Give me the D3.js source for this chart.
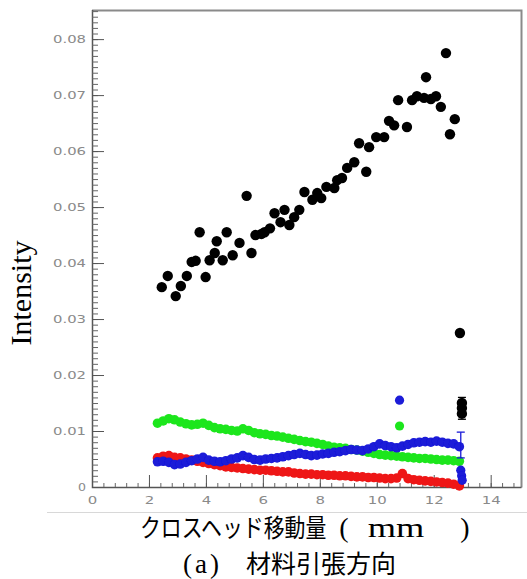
<!DOCTYPE html>
<html>
<head>
<meta charset="utf-8">
<script src="https://cdn.jsdelivr.net/npm/d3@7"></script>
<style>
  body { margin: 0; background: #fff; }
  svg { display: block; }
</style>
</head>
<body>
<div id="chart"></div>
<script>
// tick values
var xTicks = [0, 2, 4, 6, 8, 10, 12, 14];
var yTicks = [0, 0.01, 0.02, 0.03, 0.04, 0.05, 0.06, 0.07, 0.08];

// black series (scattered points)
var blackX = [2.45, 2.66, 2.94, 3.12, 3.33, 3.50, 3.64, 3.78, 3.99, 4.13, 4.31, 4.38, 4.59, 4.73, 4.94,
  5.18, 5.43, 5.60, 5.74, 5.95, 6.06, 6.25, 6.41, 6.62, 6.76, 6.93, 7.10, 7.28, 7.46, 7.74, 7.91, 8.05,
  8.23, 8.51, 8.61, 8.78, 8.96, 9.21, 9.38, 9.63, 9.73, 9.98, 10.26, 10.43, 10.61, 10.75, 11.06, 11.24,
  11.41, 11.66, 11.73, 11.90, 12.08, 12.25, 12.43, 12.57, 12.74, 12.92, 12.99, 12.99, 12.99];
var blackY = [0.0357, 0.0377, 0.0341, 0.0359, 0.0377, 0.0402, 0.0404, 0.0455, 0.0375, 0.0405, 0.0418, 0.0439, 0.0405, 0.0455, 0.0414,
  0.0436, 0.0520, 0.0418, 0.0450, 0.0452, 0.0455, 0.0462, 0.0489, 0.0473, 0.0495, 0.0468, 0.0482, 0.0495, 0.0527, 0.0513, 0.0525, 0.0516,
  0.0536, 0.0534, 0.0548, 0.0552, 0.0570, 0.0580, 0.0614, 0.0563, 0.0607, 0.0625, 0.0625, 0.0654, 0.0646, 0.0691, 0.0643, 0.0691,
  0.0698, 0.0695, 0.0732, 0.0693, 0.0698, 0.0679, 0.0775, 0.0630, 0.0657, 0.0275, 0.0150, 0.0141, 0.0131];

// coloured series share the same x positions
var seriesX = [2.3, 2.5, 2.7, 2.9, 3.1, 3.3, 3.5, 3.7, 3.9, 4.1, 4.3, 4.5, 4.7, 4.9, 5.1, 5.3, 5.5, 5.7,
  5.9, 6.1, 6.3, 6.5, 6.7, 6.9, 7.1, 7.3, 7.5, 7.7, 7.9, 8.1, 8.3, 8.5, 8.7, 8.9, 9.1, 9.3, 9.5, 9.7,
  9.9, 10.1, 10.3, 10.5, 10.7, 10.9, 11.1, 11.3, 11.5, 11.7, 11.9, 12.1, 12.3, 12.5, 12.7, 12.9];
var greenY = [0.0114, 0.0118, 0.0122, 0.0120, 0.0116, 0.0113, 0.0111, 0.0112, 0.0114, 0.0110, 0.0106, 0.0104, 0.0103, 0.0101, 0.0100, 0.0104, 0.0101, 0.0097,
  0.0095, 0.0094, 0.0092, 0.0091, 0.0089, 0.0087, 0.0085, 0.0083, 0.0081, 0.0080, 0.0078, 0.0076, 0.0073, 0.0071, 0.0070, 0.0069, 0.0067, 0.0066, 0.0064, 0.0062,
  0.0060, 0.0058, 0.0057, 0.0056, 0.0055, 0.0054, 0.0053, 0.0052, 0.0051, 0.0051, 0.0050, 0.0049, 0.0048, 0.0048, 0.0047, 0.0046];
var blueY = [0.0045, 0.0046, 0.0044, 0.0040, 0.0041, 0.0044, 0.0047, 0.0050, 0.0053, 0.0048, 0.0046, 0.0045, 0.0047, 0.0050, 0.0052, 0.0056, 0.0053, 0.0049,
  0.0048, 0.0050, 0.0051, 0.0052, 0.0054, 0.0056, 0.0058, 0.0060, 0.0058, 0.0056, 0.0057, 0.0059, 0.0060, 0.0062, 0.0063, 0.0065, 0.0067, 0.0066, 0.0065, 0.0068,
  0.0072, 0.0077, 0.0074, 0.0072, 0.0070, 0.0073, 0.0076, 0.0079, 0.0080, 0.0081, 0.0080, 0.0082, 0.0080, 0.0078, 0.0077, 0.0072];
var redY = [0.0052, 0.0055, 0.0056, 0.0053, 0.0052, 0.0050, 0.0048, 0.0046, 0.0044, 0.0042, 0.0040, 0.0038, 0.0036, 0.0035, 0.0034, 0.0033, 0.0032, 0.0031,
  0.0030, 0.0030, 0.0029, 0.0028, 0.0027, 0.0027, 0.0025, 0.0024, 0.0023, 0.0023, 0.0022, 0.0022, 0.0021, 0.0021, 0.0020, 0.0020, 0.0019, 0.0018, 0.0018, 0.0017,
  0.0017, 0.0016, 0.0015, 0.0015, 0.0016, 0.0024, 0.0015, 0.0013, 0.0012, 0.0011, 0.0010, 0.0009, 0.0008, 0.0007, 0.0005, 0.0002];

// isolated points of the coloured series
var greenExtraX = [10.8], greenExtraY = [0.0109];
var blueExtraX = [10.8, 12.95, 12.98, 13.0], blueExtraY = [0.0155, 0.0030, 0.0020, 0.0012];

// error bars: x, low, high, colour
var errX = [12.99, 12.95];
var errLo = [0.0121, 0.0052];
var errHi = [0.0160, 0.0098];
var errColor = ["#000", "#1a1ad8"];

var W = 527, H = 579;

var x = d3.scaleLinear().domain([0, 15.1]).range([92, 522]);
var y = d3.scaleLinear().domain([0, 0.0852]).range([487, 10]);

var svg = d3.select("#chart").append("svg")
  .attr("width", W)
  .attr("height", H);

var defs = svg.append("defs");
defs.append("filter").attr("id", "soft")
  .append("feGaussianBlur").attr("stdDeviation", 0.6);

// faint line under the tick labels
svg.append("line")
  .attr("x1", 47).attr("x2", W).attr("y1", 512.5).attr("y2", 512.5)
  .attr("stroke", "#d8d8d8").attr("stroke-width", 1);

// frame
svg.append("path")
  .attr("d", "M92,10.5 H521.5 V487.5")
  .attr("fill", "none").attr("stroke", "#8a8a8a").attr("stroke-width", 2);
svg.append("path")
  .attr("d", "M92.5,10 V487.5 H521.5")
  .attr("fill", "none").attr("stroke", "#555").attr("stroke-width", 1.5);

// minor ticks
var yMinor = d3.range(0, 0.0851, 0.001);
var xMinor = d3.range(0, 15.01, 0.4);

svg.append("g")
  .attr("transform", "translate(92,0)")
  .call(d3.axisLeft(y).tickValues(yMinor).tickSize(-6).tickFormat(""))
  .call(function (g) { g.select(".domain").remove(); })
  .selectAll("line").attr("stroke", "#666");

svg.append("g")
  .attr("transform", "translate(0,487)")
  .call(d3.axisBottom(x).tickValues(xMinor).tickSize(-4).tickFormat(""))
  .call(function (g) { g.select(".domain").remove(); })
  .selectAll("line").attr("stroke", "#666");

// major ticks with labels
var gy = svg.append("g")
  .attr("transform", "translate(92,0)")
  .call(d3.axisLeft(y).tickValues(yTicks).tickSize(-12).tickPadding(6)
    .tickFormat(function (d) { return d === 0 ? "0" : d.toFixed(2); }));
gy.select(".domain").remove();
gy.selectAll("line").attr("stroke", "#555");
gy.selectAll("text")
  .attr("fill", "#8a8a8a")
  .attr("font-family", "DejaVu Sans, sans-serif")
  .attr("font-size", 11)
  .attr("textLength", function (d) { return d === 0 ? 8 : 33; })
  .attr("lengthAdjust", "spacingAndGlyphs");

var gx = svg.append("g")
  .attr("transform", "translate(0,487)")
  .call(d3.axisBottom(x).tickValues(xTicks).tickSize(-12).tickPadding(9));
gx.select(".domain").remove();
gx.selectAll("line").attr("stroke", "#555");
gx.selectAll("text")
  .attr("fill", "#8a8a8a")
  .attr("font-family", "DejaVu Sans, sans-serif")
  .attr("font-size", 11)
  .attr("textLength", function (d) { return String(d).length * 9.5; })
  .attr("lengthAdjust", "spacingAndGlyphs");

// points
var pts = svg.append("g").attr("filter", "url(#soft)");

function dots(xs, ys, color, r) {
  pts.append("g").selectAll("circle")
    .data(xs)
    .enter().append("circle")
    .attr("cx", function (d) { return x(d); })
    .attr("cy", function (d, i) { return y(ys[i]); })
    .attr("r", r)
    .attr("fill", color);
}

dots(seriesX, greenY, "#1ee61e", 4.8);
dots(greenExtraX, greenExtraY, "#1ee61e", 4.6);
dots(seriesX, redY, "#ee1414", 4.8);
dots(seriesX, blueY, "#1a1ad8", 4.8);
dots(blueExtraX, blueExtraY, "#1a1ad8", 4.6);

// error bars
var eb = pts.append("g").selectAll("g")
  .data(errX)
  .enter().append("g");
eb.append("line")
  .attr("x1", function (d) { return x(d); })
  .attr("x2", function (d) { return x(d); })
  .attr("y1", function (d, i) { return y(errLo[i]); })
  .attr("y2", function (d, i) { return y(errHi[i]); })
  .attr("stroke", function (d, i) { return errColor[i]; })
  .attr("stroke-width", 1.3);
[errLo, errHi].forEach(function (arr) {
  eb.append("line")
    .attr("x1", function (d) { return x(d) - 4; })
    .attr("x2", function (d) { return x(d) + 4; })
    .attr("y1", function (d, i) { return y(arr[i]); })
    .attr("y2", function (d, i) { return y(arr[i]); })
    .attr("stroke", function (d, i) { return errColor[i]; })
    .attr("stroke-width", 1.3);
});

dots(blackX, blackY, "#000", 5.2);

// axis titles
svg.append("text")
  .attr("transform", "translate(31,293) rotate(-90)")
  .attr("text-anchor", "middle")
  .attr("font-family", "Liberation Serif, serif")
  .attr("font-size", 30)
  .attr("fill", "#000")
  .text("Intensity");

// x title, squeezed horizontally like the reference
svg.append("text")
  .attr("transform", "translate(140,537) scale(0.835,1)")
  .attr("font-family", "Noto Sans CJK JP")
  .attr("font-size", 25)
  .text("クロスヘッド移動量");
svg.append("text")
  .attr("x", 344).attr("y", 537)
  .attr("text-anchor", "middle")
  .attr("font-family", "Liberation Serif, serif")
  .attr("font-size", 28)
  .text("(");
svg.append("text")
  .attr("transform", "translate(396,537) scale(1.3,1)")
  .attr("text-anchor", "middle")
  .attr("font-family", "Liberation Serif, serif")
  .attr("font-size", 28)
  .text("mm");
svg.append("text")
  .attr("x", 465).attr("y", 537)
  .attr("text-anchor", "middle")
  .attr("font-family", "Liberation Serif, serif")
  .attr("font-size", 28)
  .text(")");

svg.append("text")
  .attr("x", 183).attr("y", 573)
  .attr("font-family", "Liberation Serif, serif")
  .attr("font-size", 27)
  .attr("letter-spacing", 3)
  .text("(a)");
svg.append("text")
  .attr("x", 246).attr("y", 573)
  .attr("font-family", "Noto Sans CJK JP")
  .attr("font-size", 25)
  .text("材料引張方向");
</script>
</body>
</html>
